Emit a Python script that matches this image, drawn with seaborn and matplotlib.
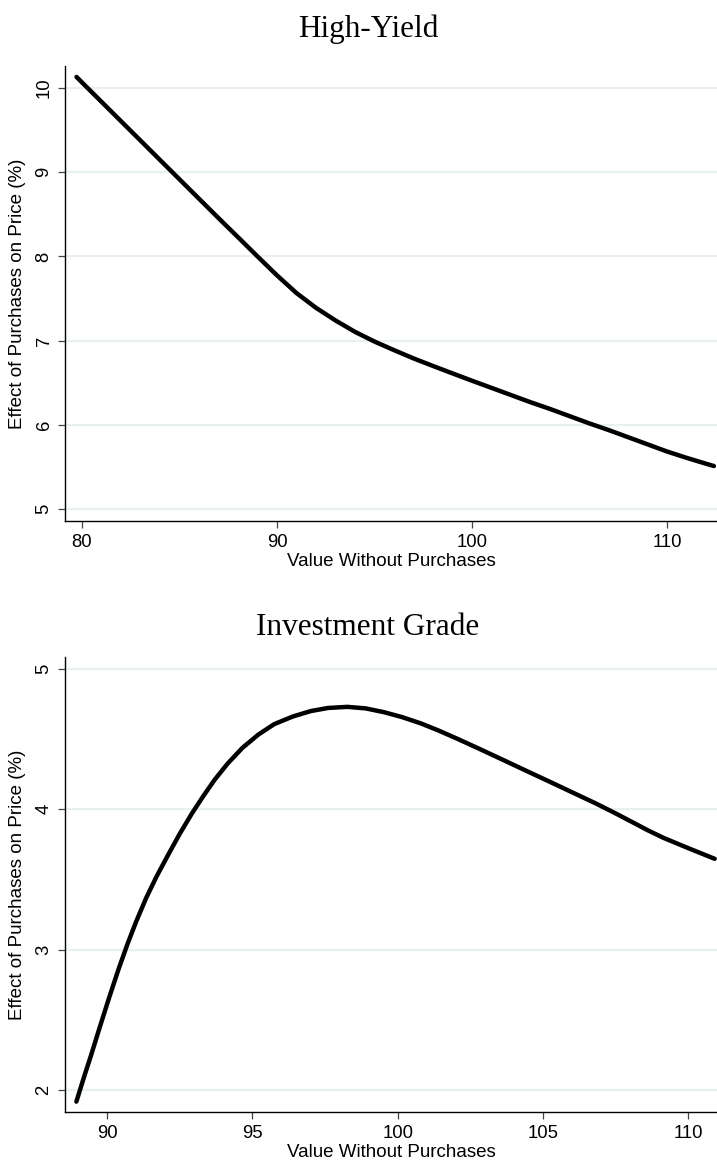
import numpy as np
import pandas as pd
import matplotlib as mpl
mpl.use("Agg")
import matplotlib.pyplot as plt
import seaborn as sns

# High-Yield panel
hy_value = [79.72, 80, 81, 82, 83, 84, 85, 86, 87, 88, 89, 90, 91, 92, 93, 94,
            95, 96, 97, 98, 99, 100, 101, 102, 103, 104, 105, 106, 107, 108,
            109, 110, 111, 112, 112.4]
hy_effect = [10.13, 10.065, 9.835, 9.605, 9.375, 9.145, 8.915, 8.685, 8.455,
             8.228, 8.0, 7.775, 7.565, 7.39, 7.24, 7.105, 6.99, 6.888, 6.79,
             6.70, 6.612, 6.525, 6.44, 6.355, 6.27, 6.19, 6.105, 6.02, 5.94,
             5.855, 5.77, 5.685, 5.61, 5.54, 5.513]

# Investment Grade panel
ig_value = [88.94, 89.2, 89.45, 89.75, 90.08, 90.4, 90.71, 91.0, 91.34, 91.7,
            92.13, 92.5, 92.92, 93.3, 93.7, 94.15, 94.65, 95.2, 95.75, 96.4,
            97.01, 97.6, 98.27, 98.9, 99.53, 100.15, 100.8, 101.4, 102.06,
            102.8, 103.63, 104.4, 105.21, 106.0, 106.79, 107.4, 108.05, 108.6,
            109.15, 110.0, 110.91]
ig_effect = [1.917, 2.09, 2.25, 2.45, 2.665, 2.865, 3.045, 3.2, 3.366, 3.52,
             3.686, 3.825, 3.97, 4.09, 4.209, 4.325, 4.435, 4.53, 4.605, 4.66,
             4.698, 4.72, 4.728, 4.717, 4.69, 4.655, 4.61, 4.56, 4.5, 4.43,
             4.35, 4.275, 4.197, 4.12, 4.043, 3.98, 3.91, 3.85, 3.795, 3.722,
             3.646]

hy_xticks = [80, 90, 100, 110]
hy_yticks = [5, 6, 7, 8, 9, 10]
ig_xticks = [90, 95, 100, 105, 110]
ig_yticks = [2, 3, 4, 5]

sns.set_style("white")
plt.rcParams['font.family'] = ['Liberation Sans', 'DejaVu Sans']
plt.rcParams['text.color'] = 'black'
plt.rcParams['axes.labelcolor'] = 'black'

fig = plt.figure(figsize=(7.17, 11.62), dpi=100)
ax1 = fig.add_axes([0.0907, 0.5516, 0.9093, 0.3916])
ax2 = fig.add_axes([0.0907, 0.0430, 0.9093, 0.3916])

panels = [
    (ax1, hy_value, hy_effect, hy_xticks, hy_yticks, (79.13, 112.56), (4.86, 10.26), "High-Yield", 0.968),
    (ax2, ig_value, ig_effect, ig_xticks, ig_yticks, (88.55, 110.99), (1.843, 5.083), "Investment Grade", 0.4535),
]

for ax, xv, yv, xt, yt, xl, yl, title, ty in panels:
    df = pd.DataFrame({'value': xv, 'effect': yv})
    sns.lineplot(data=df, x='value', y='effect', ax=ax, color='black',
                 linewidth=3.2, sort=False, estimator=None,
                 solid_capstyle='round', solid_joinstyle='round')
    ax.set_xlim(*xl)
    ax.set_ylim(*yl)
    ax.set_xticks(xt)
    ax.set_yticks(yt)
    ax.set_yticklabels([str(t) for t in yt], rotation=90, va='center')
    for t in yt:
        ax.axhline(t, color='#e9f0f2', linewidth=1.6, zorder=0)
    ax.tick_params(axis='both', which='major', length=5, width=0.9,
                   color='#444444', labelcolor='black', labelsize=13.3,
                   pad=4, bottom=True, left=True)
    for side in ['top', 'right']:
        ax.spines[side].set_visible(False)
    for side in ['left', 'bottom']:
        ax.spines[side].set_color('black')
        ax.spines[side].set_linewidth(1.0)
    ax.set_xlabel('Value Without Purchases', fontsize=13.5, labelpad=2)
    ax.set_ylabel('Effect of Purchases on Price (%)', fontsize=13.5, labelpad=7)
    fig.text(0.513, ty, title, ha='center', va='baseline', fontsize=22.5,
             color='black', family=['Liberation Serif', 'DejaVu Serif'])

fig.savefig('out.png', dpi=100)
